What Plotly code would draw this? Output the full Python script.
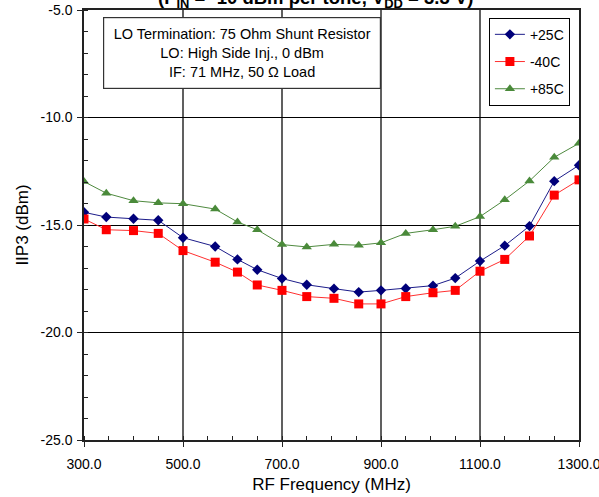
import plotly.graph_objects as go

# RF frequency sweep points (MHz)
freq_mhz = [300, 345, 400, 450, 500, 565, 610, 650, 700, 750, 805,
            855, 900, 950, 1005, 1050, 1100, 1150, 1200, 1250, 1300]

# Input IP3 (dBm) per temperature
iip3_p25 = [-14.41, -14.63, -14.71, -14.78, -15.59, -16.00, -16.60, -17.08, -17.49, -17.78, -17.96,
            -18.12, -18.04, -17.95, -17.82, -17.47, -16.68, -15.96, -15.05, -12.96, -12.22]
iip3_m40 = [-14.72, -15.22, -15.26, -15.39, -16.19, -16.73, -17.19, -17.79, -18.04, -18.33, -18.41,
            -18.67, -18.67, -18.33, -18.15, -18.04, -17.15, -16.60, -15.51, -13.61, -12.90]
iip3_p85 = [-12.98, -13.52, -13.87, -13.97, -14.01, -14.26, -14.86, -15.22, -15.91, -16.02, -15.90,
            -15.94, -15.83, -15.39, -15.22, -15.06, -14.61, -13.83, -12.95, -11.85, -11.20]

series_names = ["+25C", "-40C", "+85C"]

x_ticks = [300, 500, 700, 900, 1100, 1300]
x_tick_text = ["300.0", "500.0", "700.0", "900.0", "1100.0", "1300.0"]
y_ticks = [-25, -20, -15, -10, -5]
y_tick_text = ["-25.0", "-20.0", "-15.0", "-10.0", "-5.0"]

FONT = "Liberation Sans, Arial, Helvetica, sans-serif"

fig = go.Figure()
fig.add_trace(go.Scatter(
    x=freq_mhz, y=iip3_p25, name=series_names[0], mode="lines+markers",
    line=dict(color="#1c1c8a", width=1),
    marker=dict(symbol="diamond", size=8, color="#00007a"),
    legendgroup="a",
))
fig.add_trace(go.Scatter(
    x=freq_mhz, y=iip3_m40, name=series_names[1], mode="lines+markers",
    line=dict(color="#ff3030", width=1),
    marker=dict(symbol="square", size=9, color="#ff0000"),
    legendgroup="b",
))
fig.add_trace(go.Scatter(
    x=freq_mhz, y=iip3_p85, name=series_names[2], mode="lines+markers",
    line=dict(color="#4f8a3f", width=1),
    marker=dict(symbol="triangle-up", size=9, color="#4a8a3a"),
    legendgroup="c",
))

# Test-condition note box
fig.add_annotation(
    xref="paper", yref="paper", x=0.038, y=0.984, xanchor="left", yanchor="top",
    text="LO Termination: 75 Ohm Shunt Resistor<br>LO: High Side Inj., 0 dBm<br>IF: 71 MHz, 50 \u03a9 Load",
    showarrow=False, align="center", font=dict(family=FONT, size=14.5, color="black"),
    bordercolor="#333333", borderwidth=1.2, borderpad=8, bgcolor="white", width=260,
)

# Chart title (runs off the top edge)
fig.add_annotation(
    xref="paper", yref="paper", x=0.468, y=1.0, xanchor="center", yanchor="bottom",
    text="<b>(P<sub>IN</sub> = -10 dBm per tone, V<sub>DD</sub> = 3.3 V)</b>",
    showarrow=False, font=dict(family=FONT, size=18.5, color="black"), yshift=-3,
)

fig.update_layout(
    width=599, height=497,
    margin=dict(l=84, r=20, t=10, b=57),
    paper_bgcolor="white", plot_bgcolor="white",
    font=dict(family=FONT, size=13, color="black"),
    legend=dict(
        x=0.818, y=0.982, xanchor="left", yanchor="top",
        bordercolor="black", borderwidth=1, bgcolor="white",
        font=dict(family=FONT, size=14, color="black"),
        itemwidth=30, tracegroupgap=6,
    ),
    xaxis=dict(
        range=[300, 1300], tickvals=x_ticks, ticktext=x_tick_text,
        showgrid=True, gridcolor="#606060", gridwidth=1.5,
        showline=True, linecolor="#222222", linewidth=1.5, mirror=True,
        ticks="outside", ticklen=5, tickcolor="#222222", ticklabelstandoff=5,
        minor=dict(dtick=50, ticks="inside", ticklen=4, tickcolor="#222222", showgrid=False),
        zeroline=False, automargin=False, ticklabeloverflow="allow",
        title=dict(text="RF Frequency (MHz)", font=dict(size=17), standoff=8),
        tickfont=dict(size=14),
    ),
    yaxis=dict(
        range=[-25, -5], tickvals=y_ticks, ticktext=y_tick_text,
        showgrid=True, gridcolor="black", gridwidth=1.2,
        showline=True, linecolor="#222222", linewidth=1.5, mirror=True,
        ticks="outside", ticklen=5, tickcolor="#222222", ticklabelstandoff=2,
        minor=dict(dtick=1, ticks="inside", ticklen=4, tickcolor="#222222", showgrid=False),
        zeroline=False, automargin=False, ticklabeloverflow="allow",
        title=dict(text="IIP3 (dBm)", font=dict(size=17), standoff=8),
        tickfont=dict(size=14),
    ),
)

fig.write_html("out.html")
